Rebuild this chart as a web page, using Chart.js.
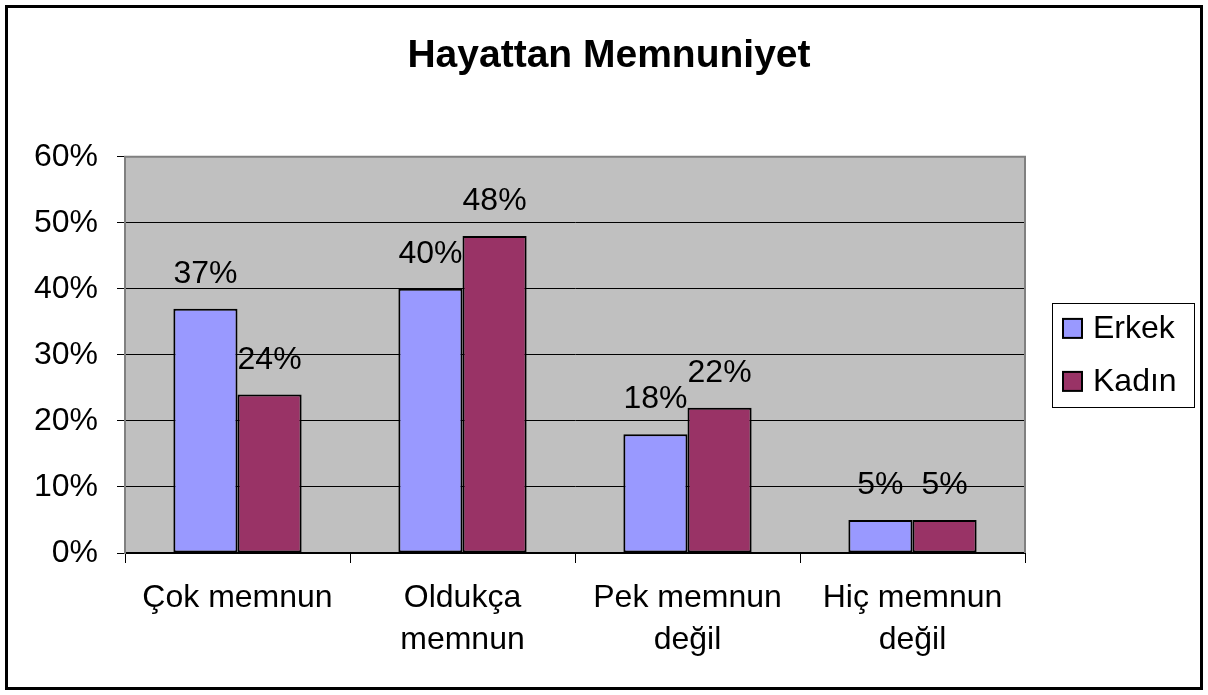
<!DOCTYPE html>
<html>
<head>
<meta charset="utf-8">
<title>Hayattan Memnuniyet</title>
<script src="https://cdn.jsdelivr.net/npm/chart.js@4.4.0/dist/chart.umd.min.js"></script>
<style>
  html, body { margin: 0; padding: 0; background: #fff; }
  canvas { display: block; }
</style>
</head>
<body>
<canvas id="chart" width="1208" height="695"></canvas>
<script>
var categories = [["Çok memnun"], ["Oldukça", "memnun"], ["Pek memnun", "değil"], ["Hiç memnun", "değil"]];
var seriesNames = ["Erkek", "Kadın"];
var erkek = [37, 40, 18, 5];
var kadin = [24, 48, 22, 5];
var yTicks = [0, 10, 20, 30, 40, 50, 60];

var FONT = "'Liberation Sans', Arial, sans-serif";

// grey plot area + outer frame
var background = {
  id: "background",
  beforeDraw: function (chart) {
    var ctx = chart.ctx, a = chart.chartArea;
    ctx.save();
    ctx.fillStyle = "#fff";
    ctx.fillRect(0, 0, chart.width, chart.height);
    ctx.fillStyle = "#c0c0c0";
    ctx.fillRect(a.left, a.top, a.right - a.left, a.bottom - a.top);
    ctx.restore();
  },
  beforeDatasetsDraw: function (chart) {
    var ctx = chart.ctx, a = chart.chartArea;
    ctx.save();
    ctx.strokeStyle = "#808080";
    ctx.lineWidth = 2;
    ctx.beginPath();
    ctx.moveTo(a.left, a.bottom);
    ctx.lineTo(a.left, a.top);
    ctx.lineTo(a.right, a.top);
    ctx.lineTo(a.right, a.bottom);
    ctx.stroke();
    ctx.restore();
  },
  afterDraw: function (chart) {
    var ctx = chart.ctx;
    ctx.save();
    ctx.strokeStyle = "#000";
    ctx.lineWidth = 3;
    ctx.strokeRect(6.5, 6.5, chart.width - 13, chart.height - 13);
    ctx.restore();
  }
};

// value labels above the bars
var valueLabels = {
  id: "valueLabels",
  afterDatasetsDraw: function (chart) {
    var ctx = chart.ctx;
    ctx.save();
    ctx.font = "32px " + FONT;
    ctx.fillStyle = "#000";
    ctx.textAlign = "center";
    ctx.textBaseline = "alphabetic";
    chart.data.datasets.forEach(function (ds, i) {
      chart.getDatasetMeta(i).data.forEach(function (bar, j) {
        ctx.fillText(ds.data[j] + "%", bar.x, bar.y - 26);
      });
    });
    ctx.restore();
  }
};

// boxed legend on the right
var legendBox = {
  id: "legendBox",
  afterDraw: function (chart) {
    var ctx = chart.ctx, a = chart.chartArea;
    var left = a.right + 27, w = 142, h = 104;
    var mid = (a.top + a.bottom) / 2;
    var top = mid - h / 2;
    ctx.save();
    ctx.strokeStyle = "#000";
    ctx.lineWidth = 1;
    ctx.strokeRect(left + 0.5, Math.round(top) + 0.5, w, h);
    ctx.font = "32px " + FONT;
    ctx.textAlign = "left";
    ctx.textBaseline = "middle";
    chart.data.datasets.forEach(function (ds, i) {
      var cy = mid - 26.5 + i * 53;
      ctx.fillStyle = ds.backgroundColor;
      ctx.fillRect(left + 11, cy - 9.5, 19, 19);
      ctx.lineWidth = 2;
      ctx.strokeStyle = "#000";
      ctx.strokeRect(left + 11, cy - 9.5, 19, 19);
      ctx.fillStyle = "#000";
      ctx.fillText(ds.label, left + 41, cy + 1);
    });
    ctx.restore();
  }
};

var ctx = document.getElementById("chart").getContext("2d");
var chart = new Chart(ctx, {
  type: "bar",
  data: {
    labels: categories,
    datasets: [
      {
        label: seriesNames[0],
        data: erkek,
        backgroundColor: "#9999ff",
        borderColor: "#000",
        borderWidth: 2,
        borderSkipped: false,
        categoryPercentage: 0.57,
        barPercentage: 1
      },
      {
        label: seriesNames[1],
        data: kadin,
        backgroundColor: "#993366",
        borderColor: "#000",
        borderWidth: 2,
        borderSkipped: false,
        categoryPercentage: 0.57,
        barPercentage: 1
      }
    ]
  },
  options: {
    responsive: false,
    animation: false,
    devicePixelRatio: 1,
    layout: { padding: { top: 5, left: 15, right: 5, bottom: 5 } },
    plugins: {
      legend: { display: false },
      tooltip: { enabled: false },
      title: {
        display: true,
        text: "Hayattan Memnuniyet",
        color: "#000",
        font: { family: FONT, size: 39, weight: "bold" },
        padding: { top: 28, bottom: 77 }
      }
    },
    scales: {
      x: {
        grid: { display: true, drawOnChartArea: false, drawTicks: true, tickLength: 10, color: "#000", lineWidth: 1 },
        border: { display: true, color: "#000", width: 2 },
        ticks: {
          color: "#000",
          font: { family: FONT, size: 32, lineHeight: 42 / 32 },
          padding: 14,
          maxRotation: 0,
          autoSkip: false
        },
        afterFit: function (s) { s.height = 137; }
      },
      y: {
        min: 0,
        max: 60,
        afterBuildTicks: function (s) {
          s.ticks = yTicks.map(function (v) { return { value: v }; });
        },
        grid: { color: "#000", lineWidth: 1, tickLength: 8, tickColor: "#000" },
        border: { display: true, color: "#808080", width: 2 },
        ticks: {
          color: "#000",
          font: { family: FONT, size: 32 },
          padding: 19,
          callback: function (v) { return v + "%"; }
        },
        afterFit: function (s) { s.width = 110; }
      },
      spacer: {
        type: "linear",
        position: "right",
        display: true,
        grid: { display: false },
        border: { display: false },
        ticks: { display: false },
        afterFit: function (s) { s.width = 178; }
      }
    }
  },
  plugins: [background, valueLabels, legendBox]
});
</script>
</body>
</html>
